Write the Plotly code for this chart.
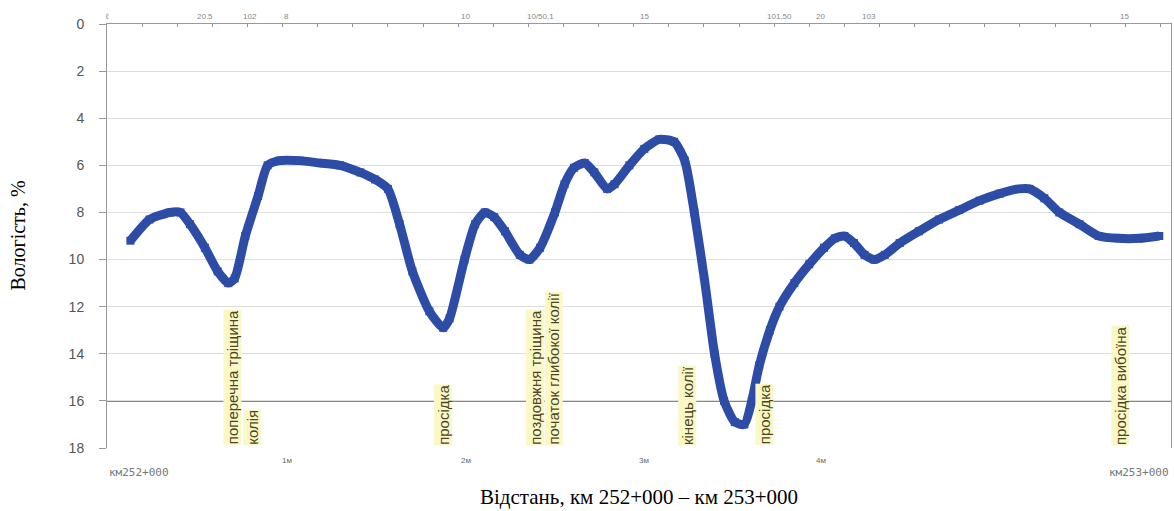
import plotly.graph_objects as go

# distance along the road, m (0 = km252+000, 1000 = km253+000)
distance_m = [22, 40, 59, 69, 78, 92, 104, 114, 120, 130, 142, 151, 162, 181, 200, 219,
              238, 252, 264, 275, 287, 303, 316, 322, 336, 346, 355, 364, 374, 388, 397,
              407, 421, 430, 439, 449, 458, 470, 477, 491, 505, 519, 533, 543, 552, 562,
              571, 580, 590, 599, 606, 613, 623, 632, 646, 660, 674, 684, 693, 702, 712,
              721, 731, 745, 763, 782, 801, 820, 839, 857, 867, 881, 895, 914, 932, 951,
              970, 989]
# moisture, %
moisture = [9.2, 8.3, 8.0, 8.0, 8.5, 9.5, 10.5, 11.0, 10.8, 9.0, 7.3, 6.0, 5.8, 5.8, 5.9, 6.0,
            6.3, 6.6, 7.0, 8.5, 10.5, 12.2, 12.9, 12.5, 10.0, 8.5, 8.0, 8.2, 8.8, 9.8, 10.0,
            9.5, 8.0, 6.8, 6.1, 5.9, 6.3, 7.0, 6.8, 6.0, 5.3, 4.9, 5.0, 5.8, 8.0, 11.0,
            14.0, 16.0, 16.9, 17.0, 16.0, 14.5, 13.0, 12.0, 11.0, 10.2, 9.5, 9.1, 9.0, 9.3, 9.8,
            10.0, 9.8, 9.3, 8.8, 8.3, 7.9, 7.5, 7.2, 7.0, 7.0, 7.4, 8.0, 8.5, 9.0, 9.1,
            9.1, 9.0]

# defect labels along the section
defect_x = [118, 136, 316, 402, 420, 545, 618, 952]
defect_text = ["поперечна тріщина", "колія", "просідка", "поздовжня тріщина",
               "початок глибокої колії", "кінець колії", "просідка", "просідка вибоїна"]

# small marks along top edge
top_x = [0, 92, 134, 169, 337, 407, 505, 632, 671, 716, 956]
top_text = ["ℓ", "20.5", "102", "8", "10", "10/50.1", "15", "101.50", "20", "103", "15"]

# marks along bottom edge
bottom_x = [169, 337, 505, 671]
bottom_text = ["1м", "2м", "3м", "4м"]

y_ticks = [0, 2, 4, 6, 8, 10, 12, 14, 16, 18]

fig = go.Figure()
fig.add_trace(go.Scatter(
    x=distance_m, y=moisture, mode="lines+markers",
    line=dict(color="#2C4CA6", width=9, shape="spline", smoothing=0.6),
    marker=dict(color="#2C4CA6", size=8, symbol="square"),
    showlegend=False, hoverinfo="skip"))

annotations = []
for x, t in zip(defect_x, defect_text):
    annotations.append(dict(x=x, y=17.9, xref="x", yref="y", text=t, textangle=-90,
                            showarrow=False, xanchor="center", yanchor="bottom",
                            bgcolor="#FBF8C8", borderpad=0,
                            font=dict(family="Liberation Sans", size=15,
                                      color="#4A4620")))
for x, t in zip(top_x, top_text):
    annotations.append(dict(x=x, y=0, xref="x", yref="y", text=t, showarrow=False,
                            yanchor="bottom", xanchor="center", yshift=1,
                            font=dict(family="Arial", size=8, color="#888888")))
for x, t in zip(bottom_x, bottom_text):
    annotations.append(dict(x=x, y=18, xref="x", yref="y", text=t, showarrow=False,
                            yanchor="top", xanchor="center", yshift=-6,
                            font=dict(family="Arial", size=8, color="#666666")))
annotations.append(dict(x=0, y=18, xref="x", yref="y", text="км252+000", showarrow=False,
                        xanchor="left", yanchor="top", yshift=-16,
                        font=dict(family="DejaVu Sans Mono", size=11, color="#777777")))
annotations.append(dict(x=1000, y=18, xref="x", yref="y", text="км253+000", showarrow=False,
                        xanchor="right", yanchor="top", yshift=-16,
                        font=dict(family="DejaVu Sans Mono", size=11, color="#777777")))
annotations.append(dict(x=-0.084, y=0.5, xref="paper", yref="paper", textangle=-90,
                        text="Вологість, %", showarrow=False, xanchor="center",
                        yanchor="middle",
                        font=dict(family="Liberation Serif", size=20, color="black")))
annotations.append(dict(x=0.5, y=-0.116, xref="paper", yref="paper", yanchor="middle",
                        text="Відстань, км 252+000 – км 253+000", showarrow=False,
                        font=dict(family="Liberation Serif", size=21, color="black")))

fig.update_layout(
    width=1174, height=511,
    margin=dict(l=107, r=3, t=24, b=63, autoexpand=False),
    paper_bgcolor="white", plot_bgcolor="white",
    annotations=annotations,
    xaxis=dict(range=[0, 1000], side="top", showgrid=False, zeroline=False,
               showline=True, linecolor="#999999", linewidth=1, automargin=False,
               ticks="inside", ticklen=3, tickcolor="#999999", dtick=33,
               showticklabels=False, mirror=False),
    yaxis=dict(range=[18, 0], tickvals=y_ticks, showgrid=True, gridcolor="#DDDDDD",
               gridwidth=1, zeroline=False, showline=True, linecolor="#999999",
               linewidth=1, mirror=True, ticks="outside", ticklen=7, tickcolor="#999999",
               automargin=False, ticklabelstandoff=12,
               tickfont=dict(family="Arial", size=14, color="#555555")),
)
fig.add_shape(type="line", xref="paper", yref="y", x0=0, x1=1, y0=16, y1=16,
              line=dict(color="#888888", width=2), layer="below")

fig.write_html("out.html", config={"displayModeBar": False},
               post_script="document.body.style.margin='0';")
